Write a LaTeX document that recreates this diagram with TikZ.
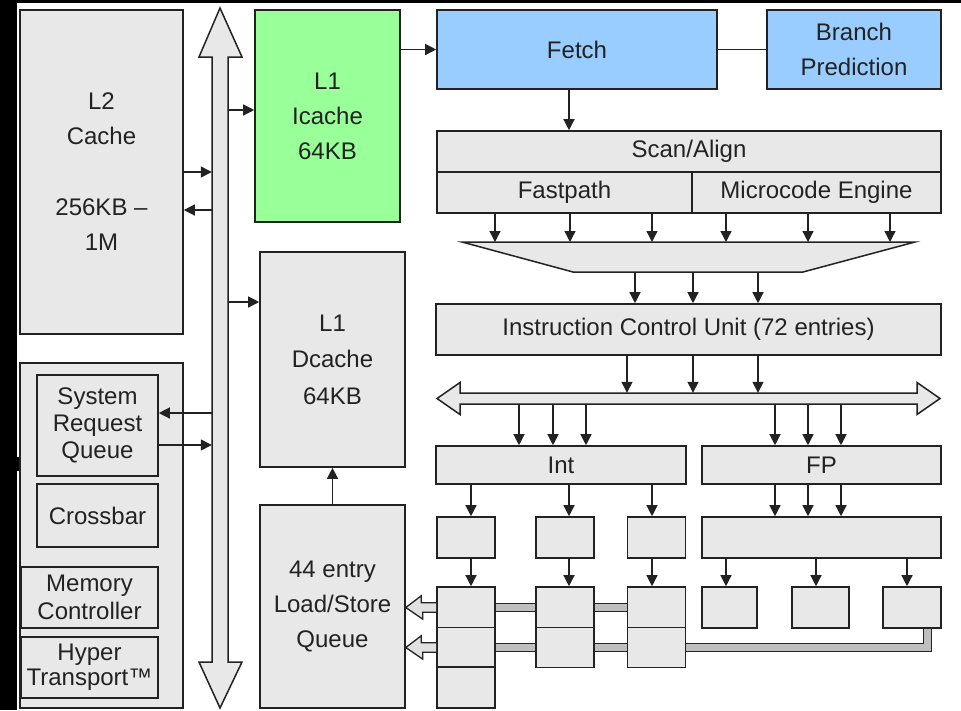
\documentclass[tikz,border=0pt]{standalone}
\usepackage{fontspec}
\setmainfont{Liberation Sans}
\usetikzlibrary{arrows.meta,positioning,calc}
\definecolor{boxgray}{HTML}{E8E8E8}
\definecolor{icgreen}{HTML}{99FF99}
\definecolor{fetchblue}{HTML}{99CCFF}
\definecolor{linegray}{HTML}{222222}

\begin{document}
\begin{tikzpicture}[x=1pt,y=-1pt,
  box/.style={draw=linegray,line width=1.6pt,fill=boxgray,inner sep=0pt,align=center,text=linegray,font=\fontsize{24}{35}\selectfont},
  ubox/.style={box,minimum width=58pt,minimum height=41pt},
  arr/.style={-{Triangle[length=11pt,width=11pt]},line width=1.3pt,draw=linegray},
  pipe/.style={double=black!25,double distance=7pt,line width=1.4pt,draw=linegray},
  pipehead/.style={fill=black!12,draw=linegray,line width=1.3pt,line join=miter},
  bus/.style={fill=boxgray,draw=linegray,line width=1.5pt,line join=miter}]
  \useasboundingbox (0,0) rectangle (961,710);
  \fill[white] (0,0) rectangle (961,710);
  \fill[black] (0,0) rectangle (17,710);
  \fill[black] (0,0) rectangle (961,3);
  \fill[black] (17,457) rectangle (20,471);

  \filldraw[bus] (220,8) -- (242,57) -- (228,57) -- (228,662) -- (242,662) -- (220,708) -- (199,662) -- (212,662) -- (212,57) -- (199,57) -- cycle;
  \node[minimum width=16pt,minimum height=605pt,inner sep=0pt] (vbus) at (220,359.5) {};

  \node[box,minimum width=163pt,minimum height=324pt] (l2) at (101.5,172) {L2\\Cache\\[36pt]256KB –\\1M};
  \node[box,fill=icgreen,minimum width=145pt,minimum height=212pt] (icache) at (327.5,116) {L1\\Icache\\64KB};
  \node[box,minimum width=145pt,minimum height=215pt,font=\fontsize{24}{36.5}\selectfont] (dcache) at (332.5,359.5) {L1\\Dcache\\64KB};
  \node[box,minimum width=145pt,minimum height=203pt] (lsq) at (332.5,606.5) {44 entry\\Load/Store\\Queue};
  \node[box,minimum width=163pt,minimum height=345pt] (sysgrp) at (101.5,535.5) {};
  \node[box,minimum width=121pt,minimum height=101pt,font=\fontsize{24}{27}\selectfont] (srq) at (97.5,425.5) {System\\Request\\Queue};
  \node[box,minimum width=121pt,minimum height=63pt] (xbar) at (97.5,515.5) {Crossbar};
  \node[box,minimum width=137pt,minimum height=61pt,font=\fontsize{24}{28}\selectfont] (memc) at (89.5,597.5) {Memory\\Controller};
  \node[box,minimum width=137pt,minimum height=61pt,font=\fontsize{24}{25}\selectfont] (ht) at (89.5,667.5) {Hyper\\Transport™};

  \draw[arr] (l2.east) -- (l2.east -| vbus.west);
  \draw[arr] (vbus.west |- 0,210) -- (l2.east |- 0,210);
  \draw[arr] (vbus.east |- 0,110) -- (icache.west |- 0,110);
  \draw[arr] (vbus.east |- 0,302) -- (dcache.west |- 0,302);
  \draw[arr] (vbus.west |- 0,413) -- (srq.east |- 0,413);
  \draw[arr] (srq.east |- 0,445) -- (vbus.west |- 0,445);
  \draw[arr] (lsq.north) -- (dcache.south);

  \node[box,fill=fetchblue,minimum width=280pt,minimum height=79pt] (fetch) at (577,49.5) {Fetch};
  \node[box,fill=fetchblue,minimum width=174pt,minimum height=79pt] (branch) at (854,49.5) {Branch\\Prediction};
  \node[box,minimum width=504pt,minimum height=41pt] (scan) at (689,151.5) {Scan/Align};
  \node[box,minimum width=255pt,minimum height=41pt] (fast) at (564.5,192.5) {Fastpath};
  \node[box,minimum width=249pt,minimum height=41pt] (micro) at (816.5,192.5) {Microcode Engine};
  \filldraw[bus] (462,242) -- (915,242) -- (803,272) -- (573,272) -- cycle;
  \coordinate (funtop) at (688,242);
  \coordinate (funbot) at (688,272);
  \node[box,minimum width=505pt,minimum height=51pt] (icu) at (688.5,329.5) {Instruction Control Unit (72 entries)};
  \filldraw[bus] (437,398.5) -- (460,382.5) -- (460,393) -- (917,393) -- (917,382.5) -- (940,398.5) -- (917,414.5) -- (917,404) -- (460,404) -- (460,414.5) -- cycle;
  \node[minimum width=457pt,minimum height=11pt,inner sep=0pt] (hbus) at (688.5,398.5) {};
  \node[box,minimum width=250pt,minimum height=38pt] (int) at (561,465) {Int};
  \node[box,minimum width=239pt,minimum height=38pt] (fp) at (821.5,465) {FP};

  \foreach \n/\x in {a/466,b/565,c/656.5} {
    \node[ubox] (\n0) at (\x,537.5) {};
    \node[ubox] (\n1) at (\x,607.5) {};
    \node[ubox,minimum height=40pt] (\n2) at (\x,647.5) {};
  }
  \node[ubox] (a3) at (466,687.5) {};
  \node[box,minimum width=239pt,minimum height=41pt] (fpw) at (821.5,537.5) {};
  \node[ubox,minimum width=55pt] (f1) at (729.5,607.5) {};
  \node[ubox,minimum width=57pt] (f2) at (820.5,607.5) {};
  \node[ubox] (f3) at (912,607.5) {};

  \draw[arr] (fetch.west -| icache.east) -- (fetch.west);
  \draw[line width=1.6pt,draw=linegray] (fetch.east) -- (branch.west);
  \draw[arr] (569,0 |- fetch.south) -- (569,0 |- scan.north);
  \foreach \x in {495,570,652,726,808,890} \draw[arr] (\x,0 |- fast.south) -- (\x,0 |- funtop);
  \foreach \x in {635,693,758} \draw[arr] (\x,0 |- funbot) -- (\x,0 |- icu.north);
  \foreach \x in {627,693,758} \draw[arr] (\x,0 |- icu.south) -- (\x,0 |- hbus.north);
  \foreach \x in {519,553,586} \draw[arr] (\x,0 |- hbus.south) -- (\x,0 |- int.north);
  \foreach \x in {775,808,841} \draw[arr] (\x,0 |- hbus.south) -- (\x,0 |- fp.north);
  \foreach \x in {471,569,652} \draw[arr] (\x,0 |- int.south) -- (\x,0 |- a0.north);
  \foreach \x in {775,808,841} \draw[arr] (\x,0 |- fp.south) -- (\x,0 |- fpw.north);
  \foreach \x in {471,569,652} \draw[arr] (\x,0 |- a0.south) -- (\x,0 |- a1.north);
  \foreach \x in {726,816,907} \draw[arr] (\x,0 |- fpw.south) -- (\x,0 |- f1.north);

  \draw[pipe] (a1.east) -- (b1.west);
  \draw[pipe] (b1.east) -- (c1.west);
  \draw[pipe] (a2.east) -- (b2.west);
  \draw[pipe] (b2.east) -- (c2.west);
  \draw[pipe] (c2.east) -| ([xshift=15.5pt]f3.south);
  \foreach \n in {a1,a2}
    \filldraw[pipehead] ($(\n.west)+(0,-4.7)$) -- ++(-15,0) -- ++(0,-7) -- (lsq.east |- \n.west) -- ++(17,11.7) -- ++(0,-7) -- ($(\n.west)+(0,4.7)$);
\end{tikzpicture}
\end{document}
